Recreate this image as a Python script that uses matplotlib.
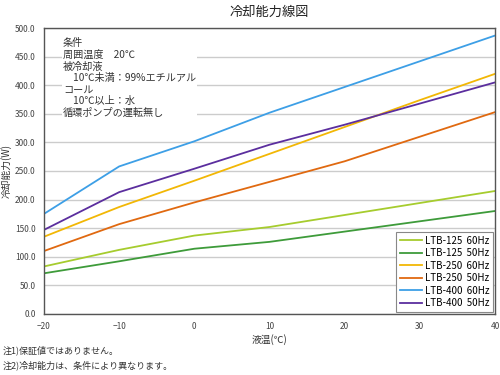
import matplotlib
matplotlib.use("Agg")
import matplotlib.pyplot as plt
from matplotlib.ticker import FormatStrFormatter

plt.rcParams['font.family'] = ['Noto Sans CJK JP', 'DejaVu Sans']

temps = [-20, -10, 0, 10, 20, 30, 40]
ltb125_60 = [83, 112, 137, 152, 173, 194, 215]
ltb125_50 = [71, 92, 114, 126, 144, 162, 180]
ltb250_60 = [135, 187, 233, 280, 327, 374, 420]
ltb250_50 = [110, 157, 195, 231, 267, 310, 353]
ltb400_60 = [175, 258, 302, 352, 397, 442, 487]
ltb400_50 = [147, 213, 254, 296, 331, 368, 405]

series = [
    ("LTB-125  60Hz", ltb125_60, "#a6cc2e"),
    ("LTB-125  50Hz", ltb125_50, "#3e9b3a"),
    ("LTB-250  60Hz", ltb250_60, "#f2b705"),
    ("LTB-250  50Hz", ltb250_50, "#e06910"),
    ("LTB-400  60Hz", ltb400_60, "#3d9fe6"),
    ("LTB-400  50Hz", ltb400_50, "#5b2e9e"),
]

conditions = "条件\n周囲温度　20℃\n被冷却液\n　10℃未満：99%エチルアル\nコール\n　10℃以上：水\n循環ポンプの運転無し"
notes = ["注1)保証値ではありません。", "注2)冷却能力は、条件により異なります。"]

fig = plt.figure(figsize=(5, 3.75), dpi=100)
ax = fig.add_axes([0.088, 0.163, 0.902, 0.762])

for label, vals, color in series:
    ax.plot(temps, vals, color=color, lw=1.3, label=label)

ax.set_xlim(-20, 40)
ax.set_ylim(0, 500)
ax.set_xticks(range(-20, 41, 10))
ax.set_yticks(range(0, 501, 50))
ax.yaxis.set_major_formatter(FormatStrFormatter('%.1f'))
ax.grid(axis='y', color='#cccccc', lw=1)
ax.set_axisbelow(True)
ax.tick_params(length=0, labelsize=6, colors='#444444', pad=6)
for s in ax.spines.values():
    s.set_color('#555555')
    s.set_linewidth(1)

ax.set_title("冷却能力線図", fontsize=9.5, pad=9, color='#222222')
ax.set_ylabel("冷却能力(W)", fontsize=7, color='#333333')
ax.yaxis.set_label_coords(-0.072, 0.5)
ax.set_xlabel("液温(℃)", fontsize=7, color='#333333', labelpad=2)

ax.text(0.042, 0.965, conditions, transform=ax.transAxes, fontsize=7.3,
        va='top', ha='left', linespacing=1.2, color='#333333',
        bbox=dict(facecolor='white', edgecolor='none', pad=1))

leg = ax.legend(loc='lower right', fontsize=7, fancybox=False, edgecolor='#888888',
                handlelength=2.2, handletextpad=0.3, borderaxespad=0.2,
                labelspacing=0.25, framealpha=1)
leg.get_frame().set_linewidth(0.8)

fig.text(0.005, 0.058, notes[0], fontsize=6.5, color='#333333')
fig.text(0.005, 0.018, notes[1], fontsize=6.5, color='#333333')

fig.savefig("out.png", dpi=100)
